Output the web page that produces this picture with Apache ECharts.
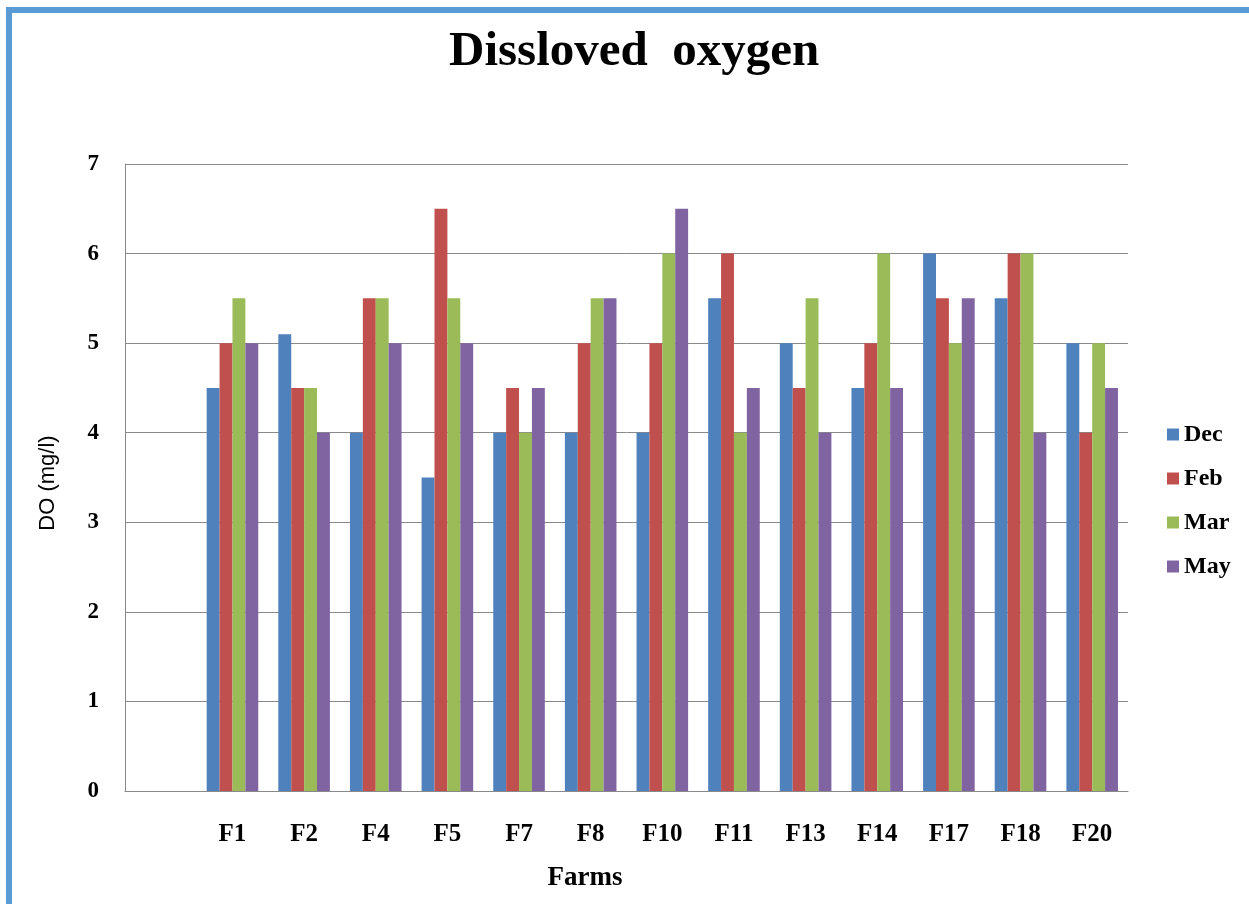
<!DOCTYPE html>
<html>
<head>
<meta charset="utf-8">
<script src="https://cdn.jsdelivr.net/npm/echarts@6/dist/echarts.min.js"></script>
<style>
html,body{margin:0;padding:0;background:#fff;}
#c{width:1249px;height:904px;}
</style>
</head>
<body>
<div id="c"></div>
<script>
// Data
const farms = ['F1','F2','F4','F5','F7','F8','F10','F11','F13','F14','F17','F18','F20'];
const dec = [4.5, 5.1, 4, 3.5, 4, 4, 4, 5.5, 5, 4.5, 6, 5.5, 5];
const feb = [5, 4.5, 5.5, 6.5, 4.5, 5, 5, 6, 4.5, 5, 5.5, 6, 4];
const mar = [5.5, 4.5, 5.5, 5.5, 4, 5.5, 6, 4, 5.5, 6, 5, 6, 5];
const may = [5, 4, 5, 5, 4.5, 5.5, 6.5, 4.5, 4, 4.5, 5.5, 4, 4.5];
const seriesNames = ['Dec','Feb','Mar','May'];
const yTicks = [0,1,2,3,4,5,6,7];

// The reference leaves an empty first category slot
const categories = [''].concat(farms);
const pad = arr => [null].concat(arr);
const colors = ['#4F81BD','#C0504D','#9BBB59','#8064A2'];
const serif = '"Liberation Serif","DejaVu Serif",serif';

const chart = echarts.init(document.getElementById('c'), null, {renderer:'canvas'});
chart.setOption({
  animation:false,
  backgroundColor:'#ffffff',
  color:colors,
  title:{
    text:'Dissloved  oxygen',
    left:444, top:23,
    textStyle:{fontFamily:serif, fontWeight:'bold', fontSize:49, color:'#000'}
  },
  legend:{
    orient:'vertical', left:1162, top:417,
    icon:'rect', itemWidth:12, itemHeight:12, itemGap:19,
    textStyle:{fontFamily:serif, fontWeight:'bold', fontSize:24, color:'#000', lineHeight:25},
    data:seriesNames
  },
  grid:{left:125, right:121, top:164, bottom:113, containLabel:false},
  xAxis:{
    type:'category', data:categories,
    axisLine:{lineStyle:{color:'#898989', width:1}},
    axisTick:{show:false},
    axisLabel:{fontFamily:serif, fontWeight:'bold', fontSize:25, color:'#000', margin:31}
  },
  yAxis:{
    type:'value', min:yTicks[0], max:yTicks[yTicks.length-1], interval:1,
    axisLine:{show:true, lineStyle:{color:'#898989', width:1}},
    axisTick:{show:false},
    splitLine:{lineStyle:{color:'#898989', width:1}},
    axisLabel:{fontFamily:serif, fontWeight:'bold', fontSize:23, color:'#000', margin:26}
  },
  series:[
    {name:seriesNames[0], type:'bar', data:pad(dec), barGap:'0%', barCategoryGap:'28%'},
    {name:seriesNames[1], type:'bar', data:pad(feb), barGap:'0%', barCategoryGap:'28%'},
    {name:seriesNames[2], type:'bar', data:pad(mar), barGap:'0%', barCategoryGap:'28%'},
    {name:seriesNames[3], type:'bar', data:pad(may), barGap:'0%', barCategoryGap:'28%'}
  ],
  graphic:[
    {type:'rect', shape:{x:6, y:7, width:1243, height:6}, style:{fill:'#5B9BD5'}, silent:true},
    {type:'rect', shape:{x:6, y:7, width:6, height:897}, style:{fill:'#5B9BD5'}, silent:true},
    {type:'text', x:48, y:483, rotation:Math.PI/2,
     style:{text:'DO (mg/l)', fontFamily:'"Liberation Sans",Arial,sans-serif', fontSize:22, fill:'#000', align:'center', verticalAlign:'middle'}},
    {type:'text', x:585, y:878,
     style:{text:'Farms', fontFamily:serif, fontWeight:'bold', fontSize:27, fill:'#000', align:'center', verticalAlign:'middle'}}
  ]
});
</script>
</body>
</html>
